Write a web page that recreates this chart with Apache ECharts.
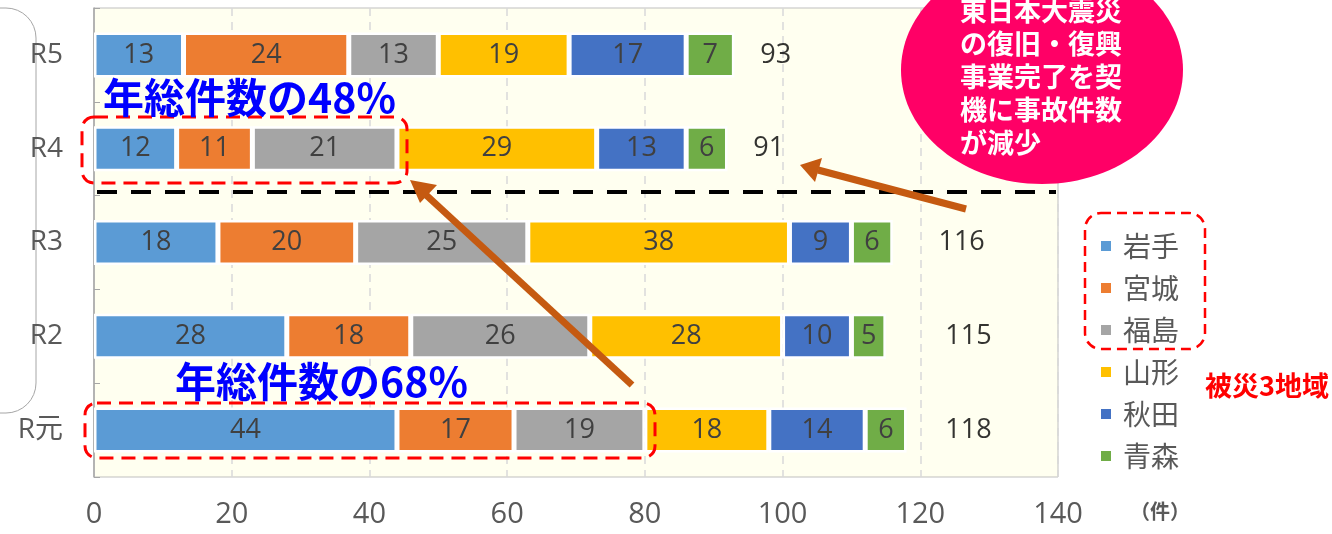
<!DOCTYPE html>
<html><head><meta charset="utf-8">
<script src="https://cdn.jsdelivr.net/npm/echarts@6/dist/echarts.min.js"></script>
<style>html,body{margin:0;padding:0;background:#fff}#c{width:1332px;height:534px}</style>
</head><body><div id="c"></div>
<script>
const categories = ['R元', 'R2', 'R3', 'R4', 'R5'];
const seriesNames = ['岩手', '宮城', '福島', '山形', '秋田', '青森'];
const iwate    = [44, 28, 18, 12, 13];
const miyagi   = [17, 18, 20, 11, 24];
const fukushima= [19, 26, 25, 21, 13];
const yamagata = [18, 28, 38, 29, 19];
const akita    = [14, 10,  9, 13, 17];
const aomori   = [ 6,  5,  6,  6,  7];
const totals   = [118, 115, 116, 91, 93];
const totalLabelPos = [127, 127, 126, 98, 99];
const xTicks = [0, 20, 40, 60, 80, 100, 120, 140];
const colors = ['#5B9BD5', '#ED7D31', '#A5A5A5', '#FFC000', '#4472C4', '#70AD47'];
const values = [iwate, miyagi, fukushima, yamagata, akita, aomori];

const FONT = '"Noto Sans CJK JP", "Noto Sans", sans-serif';
const NUMFONT = '"Open Sans", "Noto Sans CJK JP", sans-serif';

const chart = echarts.init(document.getElementById('c'));
const series = seriesNames.map((n, i) => ({
  name: n, type: 'bar', stack: 'all', barWidth: '48%',
  data: values[i],
  itemStyle: { color: colors[i], borderColor: '#ffffff', borderWidth: 2.5 },
  label: { show: true, position: 'inside', color: '#404040', fontSize: 27, fontFamily: NUMFONT },
  emphasis: { disabled: true }
}));
series.push({
  type: 'scatter', symbolSize: 0, silent: true,
  data: totalLabelPos.map((p, i) => [p, categories[i], totals[i]]),
  label: { show: true, position: 'inside', formatter: p => p.data[2], color: '#000', fontSize: 27, fontFamily: NUMFONT }
});

const graphic = [
  { type: 'rect', shape: { x: -40, y: 8, width: 76, height: 405, r: 30 }, style: { fill: 'none', stroke: '#A6A6A6', lineWidth: 1 } },
  { type: 'line', shape: { x1: 97, y1: 192, x2: 1056, y2: 192 }, style: { stroke: '#000', lineWidth: 4, lineDash: [20, 14] }, z: 10 },
  { type: 'rect', shape: { x: 82, y: 117, width: 325, height: 66, r: 12 }, style: { fill: 'none', stroke: '#FF0000', lineWidth: 3, lineDash: [14, 8] }, z: 10 },
  { type: 'rect', shape: { x: 85, y: 403, width: 570, height: 55, r: 12 }, style: { fill: 'none', stroke: '#FF0000', lineWidth: 3, lineDash: [14, 8] }, z: 10 },
  { type: 'rect', shape: { x: 1085, y: 213, width: 120, height: 136, r: 16 }, style: { fill: 'none', stroke: '#FF0000', lineWidth: 2.5, lineDash: [10, 6] }, z: 10 },
  { type: 'text', x: 103, y: 97, style: { text: '年総件数の48%', fill: '#0000FF', font: 'bold 41px ' + FONT, textVerticalAlign: 'middle' }, z: 11 },
  { type: 'text', x: 175, y: 381, style: { text: '年総件数の68%', fill: '#0000FF', font: 'bold 41px ' + FONT, textVerticalAlign: 'middle' }, z: 11 },
  { type: 'line', shape: { x1: 632, y1: 385, x2: 425, y2: 194 }, style: { stroke: '#C55A11', lineWidth: 7 }, z: 12 },
  { type: 'polygon', shape: { points: [[410, 180], [437, 185], [420, 203]] }, style: { fill: '#C55A11' }, z: 12 },
  { type: 'line', shape: { x1: 966, y1: 209, x2: 818, y2: 170 }, style: { stroke: '#C55A11', lineWidth: 7 }, z: 12 },
  { type: 'polygon', shape: { points: [[800, 165], [822, 158], [815, 182]] }, style: { fill: '#C55A11' }, z: 12 },
  { type: 'ellipse', shape: { cx: 1042, cy: 70, rx: 141, ry: 114 }, style: { fill: '#FF0066' }, z: 13 },
  { type: 'text', x: 960, y: -6, style: { text: '東日本大震災\nの復旧・復興\n事業完了を契\n機に事故件数\nが減少', fill: '#fff', font: 'bold 27px ' + FONT, lineHeight: 33, textVerticalAlign: 'top' }, z: 14 },
  { type: 'text', x: 1205, y: 386, style: { text: '被災3地域', fill: '#FF0000', font: 'bold 27px ' + FONT, textVerticalAlign: 'middle' }, z: 11 },
  { type: 'text', x: 1130, y: 511, style: { text: '（件）', fill: '#595959', font: 'bold 20px ' + FONT, textVerticalAlign: 'middle' }, z: 11 }
];

chart.setOption({
  animation: false,
  backgroundColor: '#ffffff',
  grid: { left: 94, right: 274, top: 8, bottom: 57, show: true, backgroundColor: '#FFFFF0', borderColor: '#BFBFBF', borderWidth: 1, containLabel: false },
  legend: {
    orient: 'vertical', left: 1094, top: 227, itemWidth: 12, itemHeight: 12, itemGap: 14,
    icon: 'rect', data: seriesNames,
    textStyle: { fontSize: 28, color: '#595959', fontFamily: FONT, padding: [0, 0, 0, 6] }
  },
  xAxis: {
    type: 'value', min: 0, max: 140, interval: 20,
    axisLine: { show: false }, axisTick: { show: false },
    splitLine: { show: true, lineStyle: { color: '#D9D9D9', type: [8, 6], width: 1.5 } },
    axisLabel: { color: '#595959', fontSize: 29, fontFamily: NUMFONT, margin: 23 }
  },
  yAxis: {
    type: 'category', data: categories,
    axisLine: { show: true, lineStyle: { color: '#A6A6A6', width: 1.5 } },
    axisTick: { show: true, inside: true, length: 6, lineStyle: { color: '#A6A6A6' } },
    axisLabel: { color: '#595959', fontSize: 28, fontFamily: NUMFONT, margin: 31 }
  },
  series: series,
  graphic: graphic
});
</script></body></html>
